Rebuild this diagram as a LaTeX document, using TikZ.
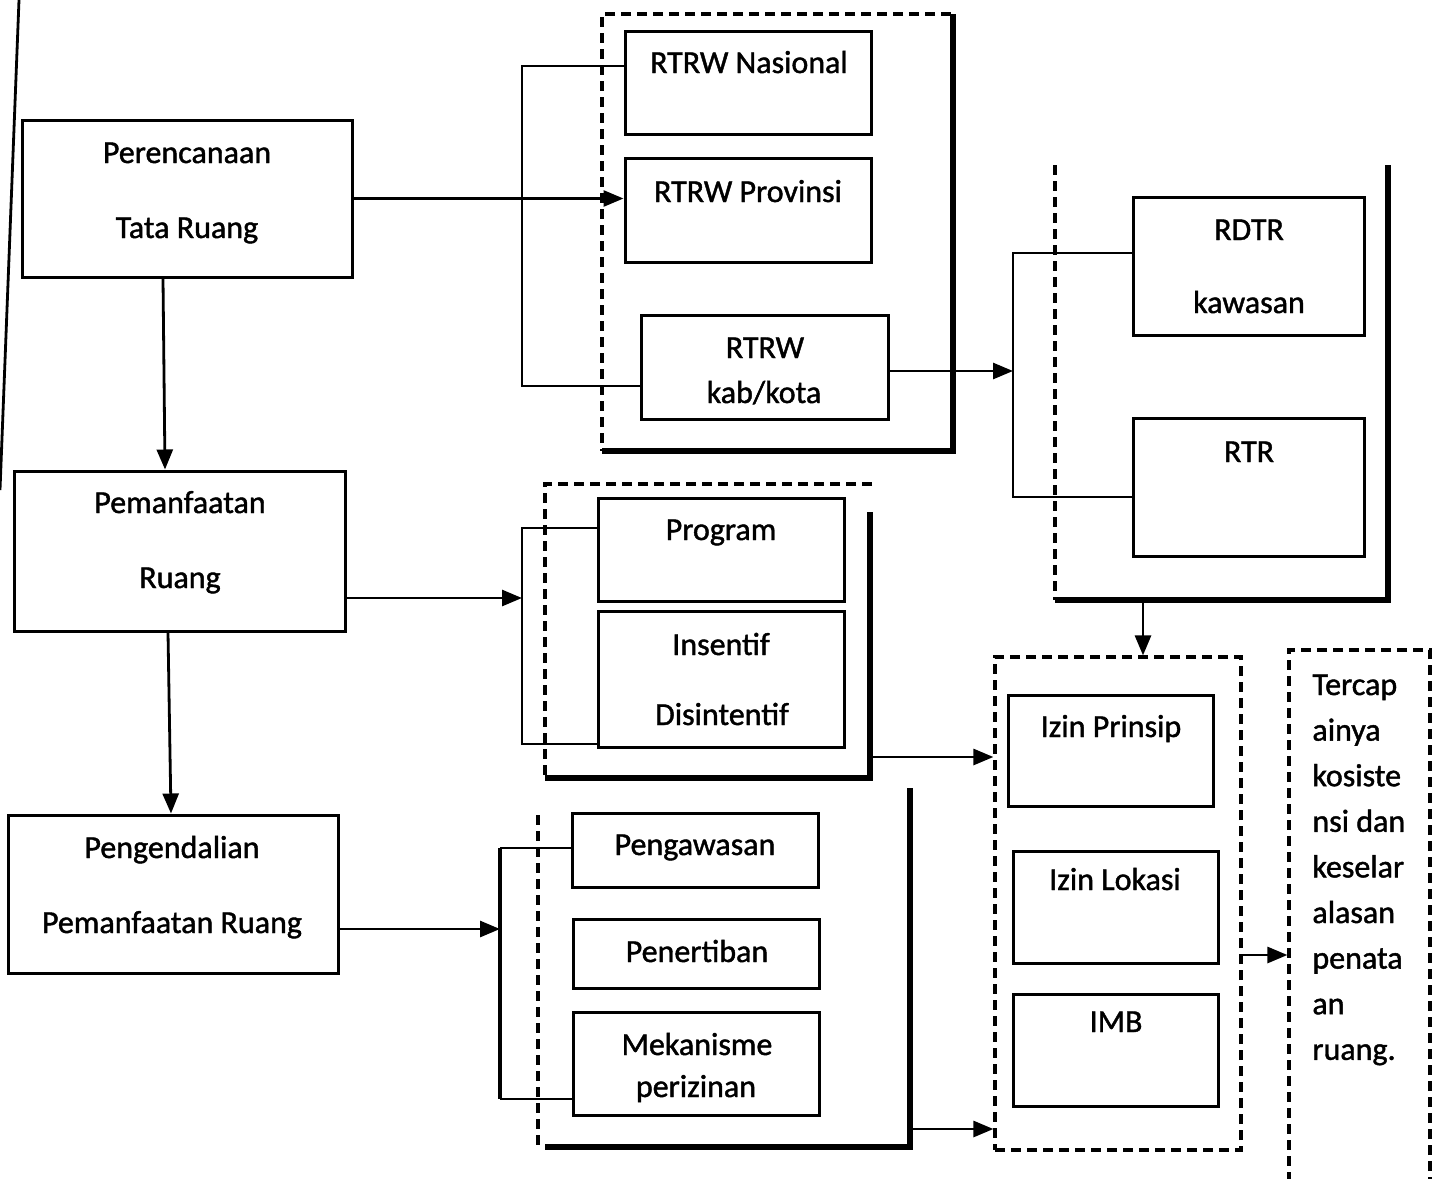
\documentclass[tikz,border=0pt]{standalone}
\usepackage{fontspec}
\setmainfont{Carlito}
\newfontfamily\scanfont{Carlito}[FakeBold=1.3]
\usetikzlibrary{arrows.meta}

\tikzset{
  box/.style={draw, line width=1.5pt, inner sep=0pt},
  sz/.style 2 args={minimum width=#1*0.5pt, minimum height=#2*0.5pt},
  txt/.style={anchor=base, inner sep=0pt, font=\scanfont\fontsize{16}{19}\selectfont},
  con/.style={line width=1.4pt},
  arr/.style={line width=1.4pt, -{Triangle[length=10pt,width=8pt]}},
  grp/.style={line width=1.6pt, dash pattern=on 5pt off 3pt},
  bar/.style={line width=3pt},
}

\begin{document}
\begin{tikzpicture}[x=0.5pt, y=-0.5pt]
    \useasboundingbox (0,0) rectangle (1440,1178);
    % Garis tepi kiri
    \draw[con] (19,0) -- (0,490);
    % Kotak utama kiri
    \node[box, sz={330}{157}] (per) at (187,198.5) {};
    \node[txt] (per1) at (187,163) {Perencanaan};
    \node[txt] (per2) at (187,238) {Tata Ruang};
    \node[box, sz={331}{160}] (pem) at (179.5,551) {};
    \node[txt] (pem1) at (180,513) {Pemanfaatan};
    \node[txt] (pem2) at (180,588) {Ruang};
    \node[box, sz={330}{158}] (pen) at (173,894) {};
    \node[txt] (pen1) at (172,858) {Pengendalian};
    \node[txt] (pen2) at (172,933) {Pemanfaatan Ruang};
    % RTRW
    \node[box, sz={246}{103}] (nas) at (748,82.5) {};
    \node[txt] (nas1) at (749,73) {RTRW Nasional};
    \node[box, sz={246}{104}] (prov) at (748,210) {};
    \node[txt] (prov1) at (748,202) {RTRW Provinsi};
    \node[box, sz={247}{104}] (kab) at (764.5,367) {};
    \node[txt] (kab1) at (765,358) {RTRW};
    \node[txt] (kab2) at (764,403) {kab/kota};
    \draw[grp] (951,14) -- (602,14) -- (602,451);
    \draw[bar] (602,451) -- (953,451) -- (953,14);
    % RDTR dan RTR
    \node[box, sz={231}{138}] (rdtr) at (1248.5,266) {};
    \node[txt] (rdtr1) at (1249,240) {RDTR};
    \node[txt] (rdtr2) at (1249,313) {kawasan};
    \node[box, sz={231}{138}] (rtr) at (1248.5,487) {};
    \node[txt] (rtr1) at (1249,462) {RTR};
    \draw[grp] (1055,165) -- (1055,600);
    \draw[bar] (1055,600) -- (1388,600) -- (1388,165);
    % Program dan insentif
    \node[box, sz={246}{103}] (prog) at (721,549.5) {};
    \node[txt] (prog1) at (721,540) {Program};
    \node[box, sz={246}{136}] (ins) at (721,679) {};
    \node[txt] (ins1) at (721,655) {Insentif};
    \node[txt] (ins2) at (722,725) {Disintentif};
    \draw[grp] (872,484) -- (545,484) -- (545,778);
    \draw[bar] (545,778) -- (870,778) -- (870,512);
    % Pengawasan, penertiban, perizinan
    \node[box, sz={246}{74}] (awas) at (695,850) {};
    \node[txt] (awas1) at (695,855) {Pengawasan};
    \node[box, sz={246}{69}] (tib) at (696,953.5) {};
    \node[txt] (tib1) at (697,962) {Penertiban};
    \node[box, sz={246}{103}] (mek) at (696,1063.5) {};
    \node[txt] (mek1) at (697,1055) {Mekanisme};
    \node[txt] (mek2) at (696,1097) {perizinan};
    \draw[grp] (538,815) -- (538,1147);
    \draw[bar] (545,1147) -- (910,1147) -- (910,788);
    % Izin
    \node[box, grp, sz={246}{493}] (izin) at (1118,903.5) {};
    \node[box, sz={205}{111}] (prin) at (1110.5,750.5) {};
    \node[txt] (prin1) at (1111,737) {Izin Prinsip};
    \node[box, sz={205}{112}] (lok) at (1115.5,907) {};
    \node[txt] (lok1) at (1115,890) {Izin Lokasi};
    \node[box, sz={205}{112}] (imb) at (1115.5,1050) {};
    \node[txt] (imb1) at (1116,1032) {IMB};
    % Hasil
    \node[box, grp, sz={141}{540}] (hasil) at (1359.5,920) {};
    \foreach \w [count=\i] in {Tercap,ainya,kosiste,nsi dan,keselar,alasan,penata,an,ruang.}
        \node[txt, anchor=base west] (h\i) at (1312,649.4+45.6*\i) {\w};
    % Panah antar tahap
    \draw[arr] ([xshift=-12pt]per.south) -- ([xshift=-7.25pt]pem.north);
    \draw[arr] ([xshift=-5.75pt]pem.south) -- ([xshift=-1pt]pen.north);
    \draw[arr] (per.east) -- (per.east -| prov.west);
    % Kurung RTRW
    \coordinate (jA1) at (522,66);
    \coordinate (jA2) at (522,386);
    \draw[con] (jA1 -| nas.west) -- (jA1) -- (jA2) -- (jA2 -| kab.west);
    \coordinate (jB1) at (1013,253);
    \coordinate (jB2) at (1013,497);
    \draw[con] (jB1 -| rdtr.west) -- (jB1) -- (jB2) -- (jB2 -| rtr.west);
    \coordinate (pA) at ([yshift=-2pt]kab.east);
    \draw[arr] (pA) -- (pA -| jB1);
    \coordinate (gB) at (1143,600);
    \draw[arr] (gB) -- (gB |- izin.north);
    % Kurung program
    \coordinate (jC1) at (522,528);
    \coordinate (jC2) at (522,744);
    \draw[con] (jC1 -| prog.west) -- (jC1) -- (jC2) -- (jC2 -| ins.west);
    \coordinate (pC) at ([yshift=-23.5pt]pem.east);
    \draw[arr] (pC) -- (pC -| jC1);
    \coordinate (gC) at (870,757);
    \draw[arr] (gC) -- (gC -| izin.west);
    % Kurung pengendalian
    \coordinate (jD1) at (500,848);
    \coordinate (jD2) at (500,1099);
    \draw[con] (jD1 -| awas.west) -- (jD1);
    \draw[line width=2.2pt] (jD1) -- (jD2);
    \draw[con] (jD2) -- (jD2 -| mek.west);
    \coordinate (pD) at ([yshift=-17.5pt]pen.east);
    \draw[arr] (pD) -- (pD -| jD1);
    \coordinate (gD) at (910,1129);
    \draw[arr] (gD) -- (gD -| izin.west);
    \coordinate (gE) at (1241,955);
    \draw[arr] (gE) -- (gE -| hasil.west);
\end{tikzpicture}
\end{document}
